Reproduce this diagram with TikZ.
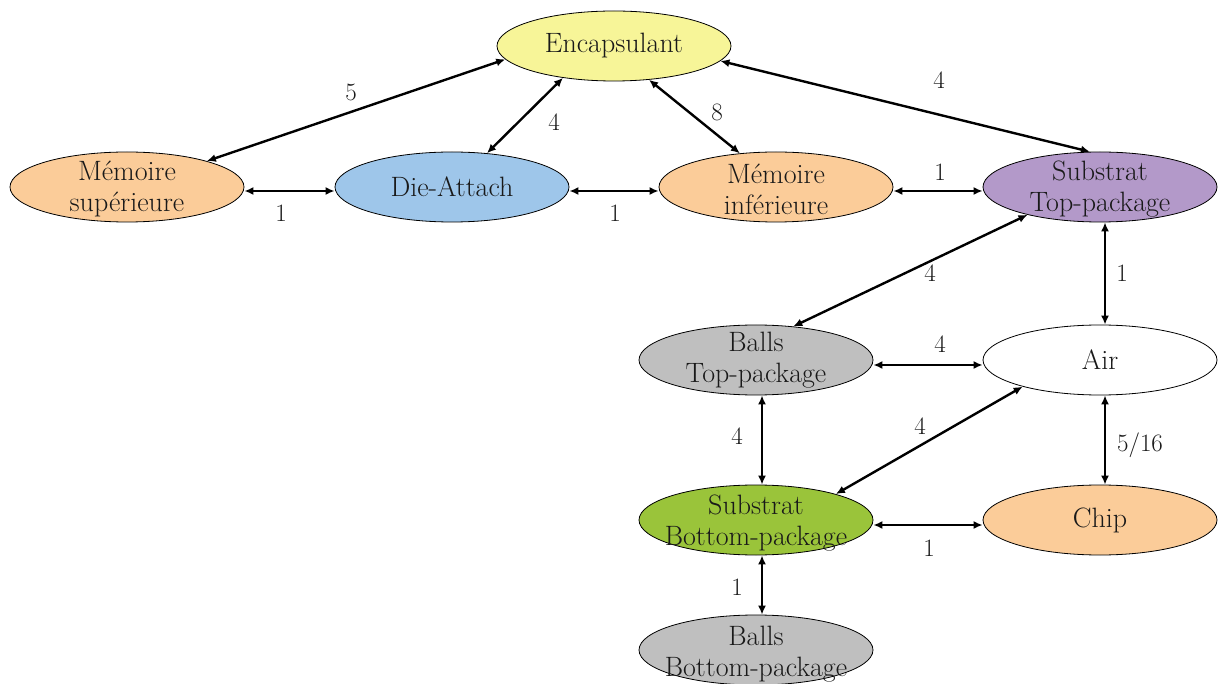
\documentclass[tikz,border=0pt]{standalone}
\usetikzlibrary{shapes.geometric,arrows.meta}
\definecolor{cEnc}{RGB}{247,245,152}
\definecolor{cOra}{RGB}{251,204,153}
\definecolor{cBlu}{RGB}{158,198,234}
\definecolor{cPur}{RGB}{179,153,201}
\definecolor{cGry}{RGB}{191,191,191}
\definecolor{cGrn}{RGB}{154,196,58}
\definecolor{cTxt}{RGB}{25,25,25}
\begin{document}
\begin{tikzpicture}[x=1pt,y=-1pt,
  ell/.style={ellipse,draw=black,line width=0.8pt,minimum width=234pt,minimum height=70pt,inner sep=0pt},
  txt/.style={align=center,text=cTxt,font=\fontsize{28}{31}\selectfont,inner sep=0pt},
  link/.style={{Latex[length=9pt,width=8pt]}-{Latex[length=9pt,width=8pt]},line width=2.4pt,black},
  lab/.style={text=cTxt,font=\fontsize{25}{28}\selectfont,inner sep=0pt}]
\clip (0,0) rectangle (1218,684);
\useasboundingbox (0,0) rectangle (1218,684);
\node[ell,fill=cEnc] (enc) at (614,46) {};
\node[ell,fill=cOra] (msup) at (127,187) {};
\node[ell,fill=cBlu] (die) at (452,187) {};
\node[ell,fill=cOra] (minf) at (776,187) {};
\node[ell,fill=cPur] (stp) at (1100,187) {};
\node[ell,fill=cGry] (btp) at (756,360) {};
\node[ell,fill=white] (air) at (1100,360) {};
\node[ell,fill=cGrn] (sbp) at (756,520) {};
\node[ell,fill=cOra] (chip) at (1100,520) {};
\node[ell,fill=cGry] (bbp) at (756,650) {};

\node[txt] (encT) at (enc) {Encapsulant};
\node[txt] (msupT) at ([yshift=-2pt]msup.center) {Mémoire\\supérieure};
\node[txt] (dieT) at (die) {Die-Attach};
\node[txt] (minfT) at ([yshift=-2pt]minf.center) {Mémoire\\inférieure};
\node[txt] (stpT) at ([yshift=-2pt]stp.center) {Substrat\\Top-package};
\node[txt] (btpT) at (btp) {Balls\\Top-package};
\node[txt] (airT) at (air) {Air};
\node[txt] (sbpT) at ([yshift=-3pt]sbp.center) {Substrat\\Bottom-package};
\node[txt] (chipT) at (chip) {Chip};
\node[txt] (bbpT) at ([yshift=-4pt]bbp.center) {Balls\\Bottom-package};

\draw[link] (enc.187) -- (msup.18);
\draw[link] (enc.212) -- (die.44);
\draw[link] (enc.316) -- (minf.137);
\draw[link] (enc.352) -- (stp.106);
\draw[link] ([yshift=-4pt]msup.east) -- ([yshift=-4pt]die.west);
\draw[link] ([yshift=-4pt]die.east) -- ([yshift=-4pt]minf.west);
\draw[link] ([yshift=-4pt]minf.east) -- ([yshift=-4pt]stp.west);
\draw[link] (stp.201) -- (btp.42);
\draw[link] ([xshift=5pt]stp.south) -- ([xshift=5pt]air.north);
\draw[link] ([yshift=-5pt]btp.east) -- ([yshift=-5pt]air.west);
\draw[link] ([xshift=6pt]btp.south) -- ([xshift=6pt]sbp.north);
\draw[link] (air.199) -- (sbp.18);
\draw[link] ([xshift=5pt]air.south) -- ([xshift=5pt]chip.north);
\draw[link] ([yshift=-5pt]sbp.east) -- ([yshift=-5pt]chip.west);
\draw[link] ([xshift=6pt]sbp.south) -- ([xshift=6pt]bbp.north);

\node[lab] (l1) at (351,92) {5};
\node[lab] (l2) at (554,122) {4};
\node[lab] (l3) at (717,112) {8};
\node[lab] (l4) at (939,80) {4};
\node[lab] (l5) at (281,213) {1};
\node[lab] (l6) at (615,213) {1};
\node[lab] (l7) at (940,172) {1};
\node[lab] (l8) at (930,273) {4};
\node[lab] (l9) at (1122,273) {1};
\node[lab] (l10) at (940,344) {4};
\node[lab] (l11) at (737,436) {4};
\node[lab] (l12) at (920,426) {4};
\node[lab] (l13) at (1140,445) {5/16};
\node[lab] (l14) at (929,548) {1};
\node[lab] (l15) at (737,587) {1};
\end{tikzpicture}
\end{document}
